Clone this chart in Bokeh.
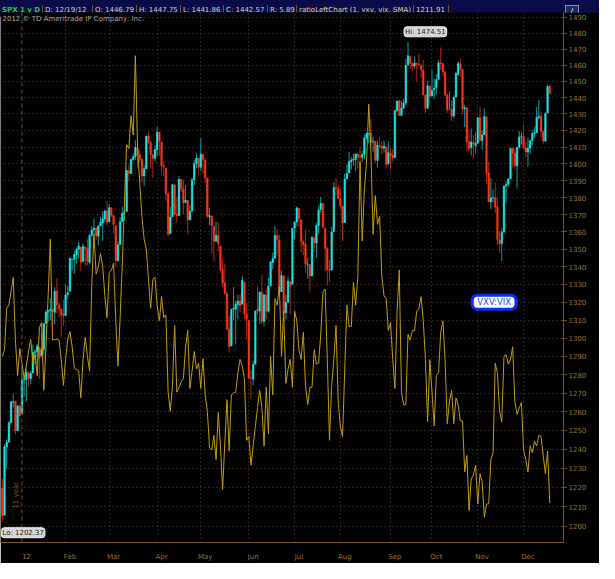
import math
from bokeh.plotting import figure
from bokeh.models import FixedTicker, Label, Div, Range1d, Span, NumeralTickFormatter
from bokeh.layouts import column
from bokeh.embed import file_html
from bokeh.resources import INLINE

# ---------------- data ----------------
month_names = ["12", "Feb", "Mar", "Apr", "May", "Jun", "Jul", "Aug", "Sep", "Oct", "Nov", "Dec"]
month_start_idx = [9, 29, 49, 71, 91, 113, 134, 155, 178, 197, 218, 239]
price_ticks = list(range(1200, 1500, 10))

opens = [1219.7, 1205.7, 1241.3, 1243.7, 1254.0, 1265.0, 1265.4, 1249.8, 1262.8,
         1258.9, 1277.0, 1277.3, 1280.9, 1277.8, 1280.8, 1292.0, 1292.5, 1294.8, 1290.2,
         1293.7, 1308.1, 1314.5, 1315.3, 1315.96, 1314.4, 1326.3, 1318.3, 1316.2, 1313.5,
         1312.5, 1324.2, 1326.2, 1344.3, 1344.3, 1347.0, 1349.97, 1351.2, 1343.1, 1351.3,
         1350.5, 1342.6, 1358.1, 1361.2, 1362.1, 1357.5, 1363.5, 1365.2, 1367.6, 1372.2,
         1365.9, 1374.1, 1369.6, 1363.6, 1343.4, 1352.7, 1365.97, 1370.8, 1371.9, 1395.9,
         1394.2, 1402.6, 1404.2, 1409.6, 1405.5, 1402.9, 1392.8, 1397.1, 1416.6, 1412.5,
         1405.4, 1403.3,
         1408.5, 1418.98, 1413.1, 1398.8, 1397.5, 1382.2, 1358.98, 1368.8, 1387.6, 1370.3,
         1369.6, 1390.8, 1385.1, 1376.96, 1378.5, 1366.97, 1372.1, 1390.6, 1400.2, 1403.3,
         1397.9, 1405.5, 1402.3, 1391.5, 1368.8, 1369.2, 1363.2, 1354.6, 1358.1, 1351.9,
         1338.4, 1330.8, 1324.8, 1305.1, 1295.7, 1316.1, 1316.0, 1318.7, 1320.6, 1318.9,
         1331.3, 1313.1,
         1309.9, 1278.3, 1277.5, 1285.6, 1316.1, 1314.99, 1325.7, 1309.4, 1324.0, 1314.9,
         1329.2, 1342.4, 1344.8, 1358.0, 1355.4, 1325.9, 1334.9, 1314.1, 1320.0, 1331.5,
         1330.1,
         1362.3, 1365.8, 1373.7, 1367.1, 1354.7, 1352.96, 1341.4, 1341.3, 1334.8, 1356.5,
         1353.7, 1363.6, 1373.0, 1376.5, 1362.3, 1350.5, 1338.4, 1338.2, 1360.1, 1385.9,
         1385.3,
         1379.3, 1375.1, 1365.5, 1391.0, 1394.5, 1401.2, 1402.3, 1402.6, 1405.9, 1404.4,
         1403.9, 1405.6, 1415.8, 1417.9, 1418.1, 1413.1, 1413.5, 1401.99, 1411.1, 1410.4,
         1409.3, 1410.1, 1400.1,
         1406.5, 1404.9, 1403.7, 1432.1, 1437.9, 1429.1, 1433.6, 1436.6, 1460.1, 1465.4,
         1461.2, 1459.5, 1461.1, 1460.3, 1459.8, 1456.9, 1441.6, 1433.4, 1447.1,
         1440.9, 1444.99, 1446.1, 1451.1, 1461.4, 1460.9, 1455.9, 1441.5, 1432.8, 1432.8,
         1428.8, 1440.3, 1454.2, 1460.9, 1457.3, 1433.2, 1433.7, 1413.2, 1409.7, 1412.97,
         1410.99,
         1412.2, 1427.6, 1414.0, 1417.3, 1428.3, 1394.5, 1377.6, 1379.9, 1380.0, 1374.6,
         1355.4, 1353.4, 1359.9, 1386.8, 1387.8, 1391.0, 1409.2, 1406.3, 1398.8, 1409.96,
         1415.95,
         1416.3, 1409.5, 1407.05, 1409.4, 1413.95, 1418.1, 1418.6, 1427.8, 1428.5, 1419.5,
         1413.5, 1430.5, 1446.79]
highs = [1224.6, 1242.8, 1245.1, 1255.2, 1265.4, 1269.4, 1266.0, 1263.5, 1264.1,
         1284.6, 1278.7, 1283.1, 1281.8, 1281.99, 1296.5, 1293.8, 1296.8, 1294.8, 1303.0,
         1308.1, 1315.5, 1315.4, 1322.3, 1315.96, 1328.3, 1333.5, 1320.1, 1316.2, 1321.4,
         1330.5, 1329.2, 1345.3, 1344.4, 1349.2, 1351.0, 1354.3, 1351.2, 1353.4, 1351.3,
         1355.9, 1359.0, 1363.4, 1367.8, 1362.7, 1364.2, 1368.9, 1371.9, 1373.1, 1378.0,
         1376.2, 1374.5, 1369.6, 1363.6, 1354.9, 1368.7, 1374.8, 1373.0, 1396.1, 1399.4,
         1402.6, 1405.9, 1414.0, 1409.6, 1407.8, 1402.9, 1399.2, 1416.6, 1419.2, 1413.7,
         1405.4, 1410.9,
         1422.4, 1419.0, 1413.1, 1401.6, 1397.5, 1383.0, 1374.7, 1388.1, 1387.6, 1379.7,
         1392.8, 1390.8, 1390.5, 1387.4, 1378.5, 1375.6, 1391.4, 1402.1, 1406.6, 1403.3,
         1415.3, 1405.5, 1403.1, 1391.5, 1373.9, 1369.2, 1363.7, 1365.9, 1365.7, 1351.9,
         1344.9, 1341.8, 1326.4, 1312.2, 1316.4, 1328.5, 1320.7, 1324.1, 1324.2, 1334.9,
         1331.3, 1319.7,
         1309.9, 1282.6, 1287.6, 1315.1, 1329.1, 1325.8, 1335.5, 1324.3, 1327.3, 1333.7,
         1343.3, 1348.2, 1363.5, 1361.6, 1358.3, 1337.8, 1334.9, 1324.2, 1334.4, 1331.5,
         1362.2,
         1366.4, 1374.8, 1373.9, 1367.1, 1354.9, 1361.5, 1345.0, 1341.3, 1357.7, 1357.3,
         1365.4, 1375.3, 1380.4, 1376.5, 1362.3, 1351.5, 1343.98, 1363.1, 1389.2, 1391.7,
         1387.2,
         1385.0, 1375.1, 1394.2, 1399.6, 1407.1, 1404.1, 1405.95, 1405.98, 1405.9, 1410.0,
         1407.7, 1417.4, 1418.7, 1418.1, 1426.7, 1416.1, 1413.5, 1413.5, 1416.2, 1413.6,
         1413.95, 1410.1, 1413.1,
         1409.3, 1408.8, 1432.1, 1437.9, 1438.7, 1437.8, 1439.2, 1463.8, 1474.51, 1465.6,
         1461.5, 1465.1, 1461.2, 1467.1, 1460.7, 1463.2, 1441.6, 1450.2, 1447.1,
         1457.1, 1451.5, 1454.3, 1463.1, 1470.96, 1460.9, 1455.9, 1442.5, 1443.9, 1438.4,
         1441.3, 1455.5, 1462.2, 1464.0, 1457.3, 1435.5, 1433.7, 1420.0, 1421.1, 1417.1,
         1418.8,
         1428.4, 1434.3, 1419.9, 1433.4, 1428.3, 1401.2, 1391.4, 1384.9, 1388.8, 1380.1,
         1360.6, 1362.0, 1386.9, 1389.8, 1391.3, 1409.2, 1409.2, 1409.0, 1410.0, 1419.7,
         1418.9,
         1423.7, 1413.1, 1415.6, 1413.95, 1420.3, 1422.2, 1434.3, 1438.6, 1431.4, 1419.5,
         1430.7, 1448.0, 1447.75]
lows = [1202.37, 1205.7, 1229.5, 1243.7, 1254.0, 1262.3, 1248.0, 1249.8, 1257.5,
        1258.9, 1268.1, 1265.3, 1273.3, 1274.6, 1280.8, 1285.4, 1285.8, 1277.6, 1290.2,
        1290.99, 1308.1, 1309.2, 1309.9, 1306.1, 1307.7, 1313.6, 1311.7, 1300.5, 1306.7,
        1312.5, 1321.6, 1326.2, 1337.5, 1335.9, 1341.9, 1344.6, 1337.4, 1343.1, 1340.8,
        1340.8, 1341.2, 1357.2, 1358.1, 1355.5, 1352.3, 1363.5, 1354.9, 1365.97, 1363.8,
        1365.9, 1368.6, 1359.1, 1340.0, 1343.4, 1352.7, 1366.0, 1366.7, 1371.9, 1389.97,
        1394.2, 1401.5, 1402.4, 1397.7, 1400.6, 1388.7, 1386.9, 1397.1, 1411.95, 1397.2,
        1391.6, 1401.4,
        1404.5, 1404.6, 1394.1, 1392.9, 1378.2, 1357.4, 1359.0, 1368.8, 1369.9, 1365.4,
        1369.6, 1383.3, 1370.3, 1376.96, 1358.8, 1366.8, 1372.1, 1387.4, 1397.3, 1394.0,
        1395.7, 1393.9, 1388.7, 1367.96, 1363.9, 1347.8, 1343.1, 1354.6, 1348.9, 1336.6,
        1328.5, 1324.8, 1304.9, 1291.98, 1295.7, 1310.0, 1296.5, 1310.5, 1314.2, 1318.9,
        1310.5, 1298.9,
        1277.3, 1266.7, 1274.2, 1285.6, 1312.7, 1307.8, 1307.7, 1306.6, 1310.5, 1314.1,
        1329.2, 1338.6, 1344.8, 1346.5, 1324.4, 1325.9, 1309.3, 1310.3, 1320.0, 1313.3,
        1330.1,
        1355.7, 1363.5, 1363.0, 1348.0, 1346.7, 1336.3, 1333.2, 1325.4, 1334.8, 1348.5,
        1345.1, 1358.96, 1371.2, 1362.2, 1337.6, 1329.2, 1331.5, 1338.2, 1360.1, 1381.4,
        1379.2,
        1373.4, 1354.7, 1365.5, 1391.0, 1394.5, 1396.6, 1398.8, 1395.6, 1397.3, 1398.8,
        1401.0, 1402.9, 1414.7, 1412.1, 1410.9, 1406.8, 1400.5, 1398.0, 1409.1, 1405.6,
        1406.6, 1397.0, 1398.96,
        1396.6, 1401.3, 1403.7, 1431.4, 1428.98, 1429.1, 1432.99, 1435.3, 1460.1, 1457.6,
        1456.1, 1457.9, 1449.98, 1459.5, 1452.1, 1441.6, 1430.5, 1433.4, 1435.6,
        1440.9, 1439.0, 1441.99, 1451.1, 1456.9, 1453.1, 1441.2, 1430.6, 1432.8, 1425.5,
        1427.2, 1440.3, 1453.3, 1452.6, 1429.9, 1422.1, 1407.6, 1407.1, 1405.1, 1403.3,
        1405.95,
        1412.2, 1412.9, 1408.1, 1417.3, 1388.1, 1377.5, 1373.0, 1377.2, 1370.8, 1352.5,
        1348.1, 1343.4, 1359.9, 1377.0, 1386.4, 1391.0, 1397.7, 1397.0, 1385.4, 1409.0,
        1411.6,
        1408.5, 1403.7, 1398.2, 1405.9, 1410.9, 1415.5, 1418.6, 1426.8, 1416.0, 1411.9,
        1413.5, 1430.5, 1441.86]
closes = [1205.4, 1241.3, 1243.7, 1254.0, 1265.3, 1265.4, 1249.6, 1263.0, 1257.6,
          1277.1, 1277.3, 1281.1, 1277.8, 1280.7, 1292.1, 1292.5, 1295.5, 1289.1, 1293.7,
          1308.0, 1314.5, 1315.4, 1316.0, 1314.7, 1326.1, 1318.4, 1316.3, 1313.0, 1312.4,
          1324.1, 1325.5, 1344.9, 1344.3, 1347.1, 1350.0, 1351.95, 1342.6, 1351.8, 1350.5,
          1343.2, 1358.0, 1361.2, 1362.2, 1357.7, 1363.5, 1365.7, 1367.6, 1372.2, 1365.7,
          1374.1, 1369.6, 1364.3, 1343.4, 1352.6, 1365.9, 1370.9, 1371.1, 1396.0, 1394.3,
          1402.6, 1404.2, 1409.8, 1405.5, 1402.9, 1392.8, 1397.1, 1416.5, 1412.5, 1405.5,
          1403.3, 1408.5,
          1419.0, 1413.4, 1399.0, 1398.1, 1382.2, 1358.6, 1368.7, 1387.6, 1370.3, 1369.6,
          1390.8, 1385.1, 1376.9, 1378.5, 1366.9, 1372.0, 1390.7, 1400.0, 1403.4, 1397.9,
          1405.8, 1402.3, 1391.6, 1369.1, 1369.6, 1363.7, 1354.6, 1358.0, 1353.4, 1338.4,
          1330.7, 1324.8, 1304.9, 1295.2, 1316.0, 1316.6, 1318.9, 1320.7, 1317.8, 1332.4,
          1313.3, 1310.3,
          1278.0, 1278.2, 1285.5, 1315.1, 1315.0, 1325.7, 1308.9, 1324.2, 1314.9, 1329.1,
          1342.8, 1344.8, 1358.0, 1355.7, 1325.5, 1335.0, 1313.7, 1320.0, 1331.9, 1329.0,
          1362.2,
          1365.5, 1374.0, 1367.6, 1354.7, 1352.5, 1341.5, 1341.5, 1334.8, 1356.8, 1353.6,
          1363.7, 1372.8, 1376.5, 1362.7, 1350.5, 1338.3, 1337.9, 1360.0, 1386.0, 1385.3,
          1379.3,
          1375.3, 1365.0, 1391.0, 1394.2, 1401.4, 1402.2, 1402.8, 1405.9, 1404.1, 1403.9,
          1405.5, 1415.5, 1418.2, 1418.1, 1413.2, 1413.5, 1402.1, 1411.1, 1410.4, 1409.3,
          1410.5, 1399.5, 1406.6,
          1404.9, 1403.4, 1432.1, 1437.9, 1429.1, 1433.6, 1436.6, 1460.0, 1465.8, 1461.2,
          1459.3, 1461.1, 1460.3, 1460.2, 1456.9, 1441.6, 1433.3, 1447.2, 1440.7,
          1444.5, 1445.8, 1451.0, 1461.4, 1460.9, 1455.9, 1441.5, 1432.6, 1432.8, 1428.6,
          1440.1, 1454.9, 1460.9, 1457.3, 1433.2, 1433.8, 1413.1, 1408.8, 1413.0, 1411.9,
          1412.2,
          1427.6, 1414.2, 1417.3, 1428.4, 1394.5, 1377.5, 1379.9, 1380.0, 1374.5, 1355.5,
          1353.3, 1359.9, 1386.9, 1387.8, 1391.0, 1409.2, 1406.3, 1398.9, 1409.9, 1416.0,
          1416.2,
          1409.5, 1407.1, 1409.3, 1413.9, 1418.1, 1418.6, 1427.8, 1428.5, 1419.5, 1413.6,
          1430.4, 1446.8, 1442.57]

# VXV:VIX ratio study, plotted on the price scale (bar index, value)
ratio_idx = [0, 1, 2, 3, 5, 6, 7, 8, 10, 11, 12, 13, 14, 15, 16, 17, 18, 19, 20, 21,
             22, 23, 25, 26, 27, 28, 29, 30, 31, 32, 33, 35, 36, 37, 38, 39, 40, 41, 42, 43,
             44, 45, 46, 47, 48, 49, 50, 51, 52, 53, 54, 55, 56, 57, 58, 59, 60, 61, 62, 63,
             64, 65, 66, 67, 68, 69, 70, 71, 72, 73, 74, 75, 76, 77, 78, 79, 80, 81, 82, 83,
             84, 85, 86, 87, 88, 89, 90, 91, 92, 93, 94, 95, 96, 97, 98, 99, 100, 101, 102, 103,
             104, 105, 106, 107, 108, 109, 110, 111, 112, 113, 114, 115, 116, 117, 118, 119, 120, 121, 122, 123,
             124, 125, 126, 127, 128, 129, 130, 131, 132, 133, 134, 135, 136, 137, 138, 139, 140, 141, 142, 143,
             144, 145, 146, 147, 148, 149, 150, 151, 152, 153, 154, 155, 156, 157, 158, 159, 160, 161, 162, 163,
             164, 165, 166, 167, 168, 169, 170, 171, 172, 173, 174, 175, 176, 177, 178, 179, 180, 181, 182, 183,
             184, 185, 186, 187, 188, 189, 190, 191, 192, 193, 194, 195, 196, 197, 198, 199, 200, 201, 202, 203,
             204, 205, 206, 207, 208, 209, 210, 211, 212, 213, 214, 215, 216, 217, 218, 219, 220, 221, 222, 223,
             224, 225, 226, 227, 228, 229, 230, 231, 232, 233, 234, 235, 236, 237, 238, 239, 240, 241, 242, 243,
             244, 245, 246, 247, 248, 249, 250, 251]
ratio_val = [1289.9, 1293.6, 1316.6, 1318.3, 1334.0, 1298.4, 1279.4, 1294.2, 1277.8, 1284.6,
             1292.6, 1299.4, 1286.2, 1291.3, 1279.4, 1305.9, 1308.6, 1271.5, 1295.2, 1323.6,
             1355.9, 1298.9, 1299.4, 1298.9, 1288.3, 1274.1, 1288.3, 1299.4, 1303.6, 1295.2,
             1283.6, 1282.0, 1267.4, 1288.3, 1300.5, 1290.0, 1282.0, 1329.9, 1358.7, 1336.0,
             1340.0, 1347.6, 1340.4, 1323.6, 1311.3, 1336.7, 1338.0, 1342.2, 1310.0, 1284.6,
             1311.3, 1342.2, 1377.3, 1411.5, 1409.0, 1429.0, 1417.3, 1465.8, 1409.8, 1388.6,
             1368.9, 1355.9, 1350.0, 1332.9, 1316.6, 1332.9, 1334.0, 1318.0, 1309.6, 1323.1,
             1311.3, 1312.9, 1270.5, 1260.2, 1274.1, 1307.0, 1270.5, 1273.1, 1276.0, 1277.8,
             1295.0, 1304.2, 1272.5, 1282.0, 1292.6, 1283.0, 1286.2, 1272.5, 1288.8, 1269.0,
             1260.2, 1240.7, 1239.6, 1247.3, 1234.6, 1259.6, 1241.7, 1219.0, 1243.3, 1266.4,
             1239.1, 1269.0, 1270.0, 1270.5, 1281.0, 1288.3, 1284.6, 1277.8, 1244.7, 1246.8,
             1231.6, 1241.7, 1252.0, 1262.2, 1271.5, 1262.2, 1241.7, 1273.1, 1248.3, 1289.9,
             1269.0, 1322.0, 1318.3, 1329.0, 1289.9, 1315.0, 1275.2, 1283.0, 1288.3, 1273.1,
             1315.0, 1309.6, 1293.6, 1288.3, 1303.2, 1274.1, 1263.8, 1273.1, 1273.1, 1293.6,
             1285.7, 1286.2, 1302.1, 1325.8, 1327.4, 1288.3, 1244.7, 1274.1, 1288.3, 1307.0,
             1265.3, 1251.9, 1246.8, 1283.0, 1318.3, 1306.5, 1306.5, 1331.3, 1318.3, 1334.6,
             1401.2, 1354.8, 1385.0, 1401.2, 1436.0, 1407.0, 1358.7, 1381.2, 1364.4, 1368.9,
             1334.6, 1323.6, 1322.0, 1304.2, 1308.6, 1288.3, 1272.5, 1315.0, 1338.2, 1270.5,
             1263.8, 1263.8, 1302.1, 1298.9, 1304.2, 1304.2, 1315.0, 1316.6, 1323.1, 1309.6,
             1288.3, 1254.5, 1288.3, 1270.5, 1252.4, 1279.4, 1281.0, 1303.2, 1309.6, 1288.3,
             1253.5, 1265.3, 1271.5, 1253.5, 1267.4, 1263.8, 1255.0, 1255.0, 1228.1, 1236.7,
             1208.1, 1224.5, 1226.5, 1231.6, 1211.5, 1227.1, 1223.0, 1204.6, 1211.5, 1211.5,
             1234.6, 1238.1, 1286.2, 1281.0, 1260.2, 1254.5, 1289.9, 1290.9, 1285.7, 1288.3,
             1295.2, 1265.3, 1258.6, 1262.0, 1264.8, 1239.6, 1234.6, 1228.1, 1241.7, 1238.1,
             1244.2, 1241.7, 1247.3, 1246.8, 1236.7, 1227.1, 1239.1, 1211.91]

header_items = ["D: 12/19/12", "O: 1446.79", "H: 1447.75", "L: 1441.86", "C: 1442.57", "R: 5.89"]
study_name = "ratioLeftChart (1, vxv, vix, SMA)"

# ---------------- styling ----------------
FONT = "DejaVu Sans"
BROWN = "#9a7434"
AXIS_BROWN = "#7a5522"
GRID = "#5e4419"
UP_BODY, DN_BODY = "#1be6e6", "#ff3416"
UP_WICK, DN_WICK = "#0f9c9c", "#b02a12"
LINE_GOLD = "#c19c0e"

W, H_HEAD, H_FIG = 599, 12, 551

n = len(closes)
idx = list(range(n))
up = [c >= o for o, c in zip(opens, closes)]
body_top = [max(o, c) for o, c in zip(opens, closes)]
body_bot = [min(o, c) for o, c in zip(opens, closes)]
body_col = [UP_BODY if u else DN_BODY for u in up]
wick_col = [UP_WICK if u else DN_WICK for u in up]

x_lo, x_hi = -0.85, 257.3
y_lo, y_hi = 1191.8, 1493.0

p = figure(width=W, height=H_FIG, y_axis_type="log", y_axis_location="right",
           x_range=Range1d(x_lo, x_hi), y_range=Range1d(y_lo, y_hi),
           output_backend="svg", toolbar_location=None,
           min_border_left=0, min_border_right=36, min_border_top=0, min_border_bottom=15,
           background_fill_color="#000000", border_fill_color="#000000",
           outline_line_color=None)

# axes
p.yaxis.ticker = FixedTicker(ticks=price_ticks)
p.yaxis.formatter = NumeralTickFormatter(format="0")
p.yaxis.axis_line_color = AXIS_BROWN
p.yaxis.major_tick_line_color = AXIS_BROWN
p.yaxis.major_tick_in = 2
p.yaxis.major_tick_out = 3
p.yaxis.minor_tick_line_color = None
p.yaxis.major_label_text_color = BROWN
p.yaxis.major_label_text_font = FONT
p.yaxis.major_label_text_font_size = "7px"
p.yaxis.major_label_standoff = 2

label_shift = 2
p.xaxis.ticker = FixedTicker(ticks=[m + label_shift for m in month_start_idx])
p.xaxis.major_label_overrides = {m + label_shift: name for m, name in zip(month_start_idx, month_names)}
p.xaxis.axis_line_color = AXIS_BROWN
p.xaxis.major_tick_line_color = None
p.xaxis.minor_tick_line_color = None
p.xaxis.major_label_text_color = BROWN
p.xaxis.major_label_text_font = FONT
p.xaxis.major_label_text_font_size = "7px"
p.xaxis.major_label_standoff = 4

# grids
p.ygrid.ticker = FixedTicker(ticks=price_ticks)
p.ygrid.grid_line_color = GRID
p.ygrid.grid_line_dash = "1 3"
p.xgrid.ticker = FixedTicker(ticks=month_start_idx[1:])
p.xgrid.grid_line_color = GRID
p.xgrid.grid_line_dash = "1 3"

p.add_layout(Span(location=month_start_idx[0], dimension="height",
                  line_color="#6e5222", line_dash="4 3", line_width=1))

# candles
p.segment(x0=idx, y0=lows, x1=idx, y1=highs, line_color=wick_col, line_width=1)
p.vbar(x=idx, width=0.72, top=body_top, bottom=body_bot,
       fill_color=body_col, line_color=body_col, line_width=0.5)

# ratio study
p.line(ratio_idx, ratio_val, line_color=LINE_GOLD, line_width=1.0)

# annotations
p.add_layout(Label(x=x_lo, y=y_hi, x_offset=2, y_offset=-2, text="2012 \u00a9 TD Ameritrade IP Company, Inc.",
                   text_font=FONT, text_font_size="7px", text_color="#a8a8a8", text_baseline="top"))

p.add_layout(Label(x=month_start_idx[0], y=1216, x_offset=-2, angle=math.pi / 2, text="11 year",
                   text_font=FONT, text_font_size="7px", text_color="#7a5a28",
                   text_align="center", text_baseline="bottom"))

hi_i = max(idx, key=lambda i: highs[i])
lo_i = min(idx, key=lambda i: lows[i])
p.add_layout(Label(x=hi_i, y=highs[hi_i], x_offset=-4, y_offset=5, text=f"Hi: {highs[hi_i]:.2f}",
                   text_font=FONT, text_font_size="7px", text_color="#1a1a1a",
                   text_align="left", text_baseline="bottom",
                   background_fill_color="#d6d6d6", border_line_color="#f0f0f0",
                   padding=1, border_radius=3))
p.add_layout(Label(x=lo_i, y=lows[lo_i], x_offset=-1, y_offset=-6, text=f"Lo: {lows[lo_i]:.2f}",
                   text_font=FONT, text_font_size="7px", text_color="#1a1a1a",
                   text_align="left", text_baseline="top",
                   background_fill_color="#d6d6d6", border_line_color="#f0f0f0",
                   padding=1, border_radius=3))

p.add_layout(Label(x=225.5, y=1320, text="VXV:VIX", text_font=FONT, text_font_size="8.5px",
                   text_color="#2a44ff", text_align="center",
                   text_baseline="middle", background_fill_color="#ffffff",
                   border_line_color="#0a2cff", border_line_width=3,
                   padding=(5, 2), border_radius=5))

p.add_layout(Label(x=x_hi, y=closes[-1], x_offset=3, text=f"{closes[-1]:.2f}",
                   text_font=FONT, text_font_size="7px", text_color="#ffffff",
                   text_align="left", text_baseline="middle",
                   background_fill_color="#ff2a1a", padding=1, border_radius=3))
p.add_layout(Label(x=x_hi, y=ratio_val[-1], x_offset=3, text=f"{ratio_val[-1]:.2f}",
                   text_font=FONT, text_font_size="7px", text_color="#2a2400",
                   text_align="left", text_baseline="middle",
                   background_fill_color="#f2c800", padding=1, border_radius=3))

# header bar
sep = "border-right:1px solid #6c5430;"
cell = "display:inline-block;height:11px;line-height:11px;padding:0 2px;box-sizing:border-box;white-space:nowrap;"
parts = [f'<span style="{cell}{sep}width:43px;color:#22d022;font-weight:bold;">SPX 1 y D</span>']
widths = [50, 44, 44, 43, 44, 29]
for t, w in zip(header_items, widths):
    parts.append(f'<span style="{cell}{sep}width:{w}px;color:#d0d0d0;">{t}</span>')
parts.append(f'<span style="{cell}{sep}width:117px;color:#e6d79a;">{study_name}</span>')
parts.append(f'<span style="{cell}{sep}width:35px;color:#e6d79a;">{ratio_val[-1]:.2f}</span>')
parts.append(f'<span style="{cell}flex:1;"></span>')
parts.append(f'<span style="{cell}width:14px;margin-right:20px;border:1px solid #8090b0;'
             f'background:#1c2a60;color:#ffffff;text-align:center;padding:0;">/</span>')
header_html = ('<div style="display:flex;width:%dpx;height:12px;background:#0a0c48;'
               'border-bottom:1px solid #7a5522;box-sizing:border-box;font-family:\'DejaVu Sans\';'
               'font-size:7px;overflow:hidden;">%s</div>') % (W, "".join(parts))
header = Div(text=header_html, width=W, height=H_HEAD, margin=(0, 0, 0, 0),
             styles={"background-color": "#0a0c48"})

layout = column(header, p, spacing=0)
open("out.html", "w").write(file_html(layout, INLINE))
